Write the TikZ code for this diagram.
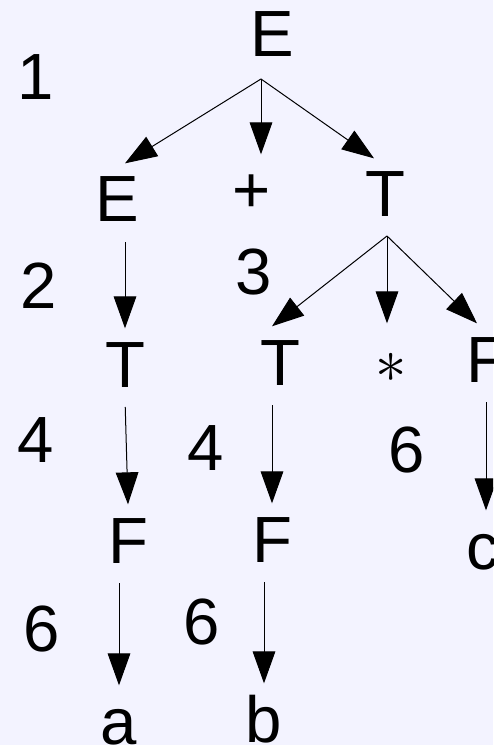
\documentclass[tikz,border=0pt]{standalone}
\usepackage{fontspec}
\setmainfont{Liberation Sans}
\usetikzlibrary{arrows.meta,calc}
\definecolor{fond}{RGB}{243,243,255}
\tikzset{
  symb/.style={anchor=base,inner sep=0pt,outer sep=9pt,text height=35pt,text depth=0pt,
    font=\fontsize{49}{49}\selectfont},
  fleche/.style={line width=0.75pt,-{Triangle[length=24pt,width=17pt]}},
  descente/.style={fleche,shorten <=6pt},
}
\begin{document}
\begin{tikzpicture}[x=0.75pt,y=-0.75pt]
%					Fond :
\clip (0,0) rectangle (493,745);
\fill[fond] (0,0) rectangle (493,745);
%					Nœuds de l'arbre :
\node[symb] (e1) at (272,57) {E};
\node[symb] (e2) at (117,222) {E};
\node[symb] (plus) at (252,213) {+};
\node[symb] (t1) at (385,217) {T};
\node[symb] (t2) at (125,387) {T};
\node[symb] (t3) at (280,385) {T};
\node[symb,font=\normalsize] (fois) at (391,382) {\scalebox{4.7}{$\ast$}};
\node[symb] (f3) at (486,382) {F};
\node[symb] (f1) at (128,563) {F};
\node[symb] (f2) at (272,562) {F};
\node[symb] (a) at (119,744) {a};
\node[symb] (b) at (264,742) {b};
\node[symb] (c) at (483,569) {c};
%					Numéros des règles :
\node[symb] (n1) at (36,100) {1};
\node[symb] (n2) at (39,308) {2};
\node[symb] (n3) at (254,294) {3};
\node[symb] (n4a) at (36,462) {4};
\node[symb] (n4b) at (206,470) {4};
\node[symb] (n6a) at (407,472) {6};
\node[symb] (n6b) at (42,651) {6};
\node[symb] (n6c) at (202,644) {6};
%					Tracé des flèches :
\coordinate (fourche1) at (261,79);
\coordinate (fourche2) at (387,236);
\draw[fleche] (fourche1) -- (e2.north -| t2);
\draw[fleche] (fourche1) -- (fourche1 |- plus.north);
\draw[fleche] (fourche1) -- ($(t1.north)+(-11,0)$);
\draw[descente] (e2.south -| t2) -- (t2.north);
\draw[fleche] (fourche2) -- (t3.north -| f2);
\draw[fleche] (fourche2) -- (fourche2 |- fois.north);
\draw[fleche] (fourche2) -- ($(f3.north)+(-9,0)$);
\draw[descente] (t2.south) -- (f1.north);
\draw[descente] (t3.south -| f2) -- (f2.north);
\draw[descente] (f3.south) -- (f3.south |- c.north);
\draw[descente] (f1.south -| a) -- (a.north);
\draw[descente] (f2.south -| b) -- (b.north);
\end{tikzpicture}
\end{document}
